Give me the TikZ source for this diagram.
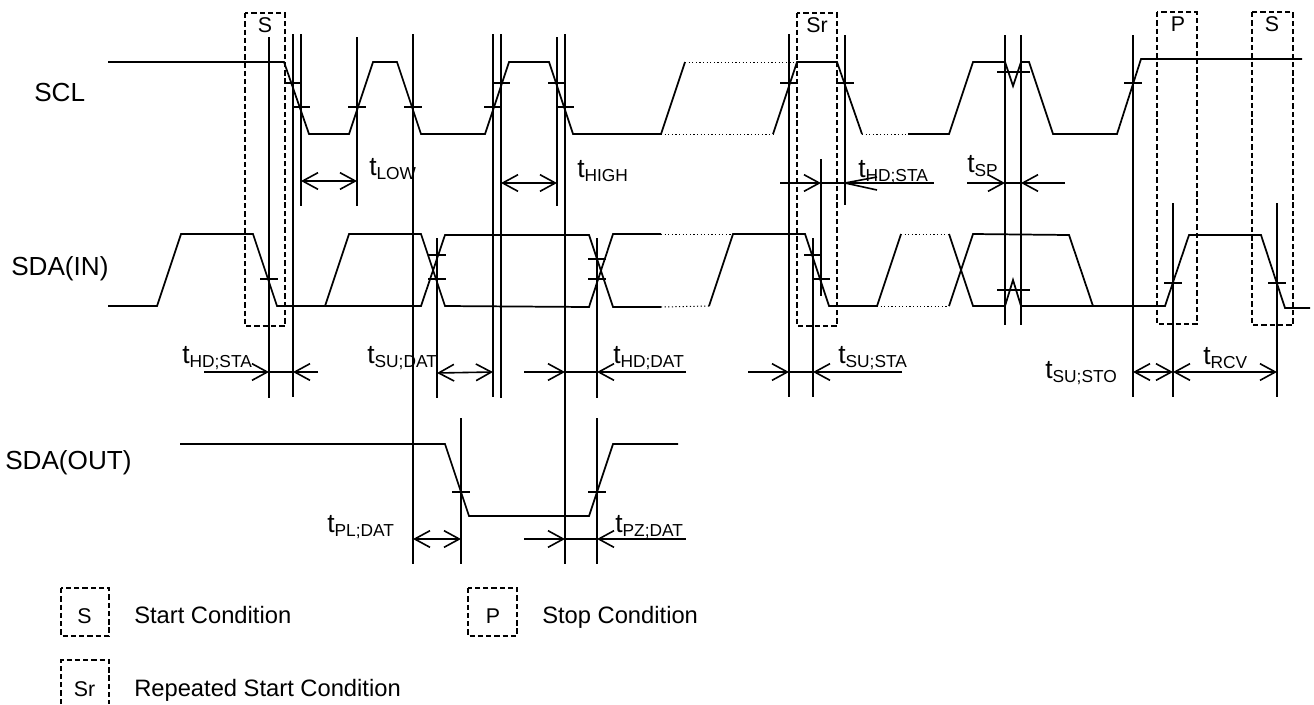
\documentclass[tikz,border=0pt]{standalone}
\usepackage{fontspec}
\setmainfont{Liberation Sans}
\usetikzlibrary{arrows.meta}
\newcommand{\tlab}[1]{{\fontsize{19.8}{22}\selectfont t}\raisebox{-3.5pt}{\fontsize{13}{14}\selectfont #1}}
\tikzset{
  wave/.style={line width=1.3pt,line join=miter},
  dots/.style={line width=0.75pt,dash pattern=on 0.9pt off 1.8pt},
  guide/.style={line width=1.3pt},
  tick/.style={line width=1.05pt},
  window/.style={line width=1.25pt,dash pattern=on 4pt off 2.2pt},
  plain/.style={line width=1.2pt},
  dim/.style={line width=1.2pt,{Straight Barb[length=11.5pt,width=12.5pt]}-{Straight Barb[length=11.5pt,width=12.5pt]}},
  dimr/.style={line width=1.2pt,-{Straight Barb[length=11.5pt,width=12.5pt]}},
  sig/.style={anchor=base west,inner sep=0pt,font=\fontsize{19.6}{22}\selectfont},
  tim/.style={anchor=base west,inner sep=0pt},
  win/.style={anchor=base,inner sep=0pt,font=\fontsize{16}{18}\selectfont},
  leg/.style={anchor=base west,inner sep=0pt,font=\fontsize{17.8}{20}\selectfont},
}
\begin{document}
\begin{tikzpicture}[x=0.75pt,y=-0.75pt]
\useasboundingbox (0,0) rectangle (1314,704);
% vertical guides
\foreach \xx/\a/\b in {269/37/398, 293/34/397, 301/34/206, 357/37/206, 413/34/564,
  493/34/397, 501/34/398, 557/37/206, 565/34/564, 597/238/398, 597/418/564,
  437/238/398, 461/418/564, 789/34/397, 821/159/296, 813/238/397, 845/35/205,
  1005/35/325, 1021/35/325, 1133/35/397, 1173/203/397, 1277/203/397}
  \draw[guide] (\xx,\a) -- (\xx,\b);
% SCL
\draw[wave] (108,62) -- (284,62) -- (309,134) -- (349,134) -- (373,62) -- (397,62) -- (421,134) -- (485,134) -- (509,62) -- (549,62) -- (573,134) -- (661,134) -- (685,62);
\draw[dots] (685,62) -- (797,62);
\draw[dots] (661,134) -- (773,134);
\draw[wave] (773,134) -- (797,62) -- (837,62) -- (862,134);
\draw[dots] (862,134) -- (908,134);
\draw[wave] (908,134) -- (949,134) -- (973,62) -- (1005,62) -- (1013,86) -- (1021,62) -- (1029,62) -- (1053,134) -- (1117,134) -- (1141,59) -- (1302,59);
% SDA(IN)
\draw[wave] (108,306) -- (157,306) -- (181,234) -- (253,234) -- (277,306) -- (325,306) -- (349,234) -- (421,234) -- (445,306) -- (589,307) -- (613,234) -- (661,234);
\draw[wave] (325,306) -- (421,306) -- (445,235) -- (589,235) -- (613,307) -- (661,307);
\draw[dots] (661,234) -- (733,234);
\draw[dots] (661,307) -- (709,306);
\draw[wave] (709,306) -- (733,234) -- (805,234) -- (829,306) -- (877,306) -- (901,234);
\draw[dots] (901,234) -- (949,234);
\draw[dots] (877,306) -- (949,306);
\draw[wave] (949,234) -- (973,306) -- (1005,306) -- (1013,280) -- (1021,306) -- (1093,306) -- (1165,306) -- (1189,235) -- (1261,235) -- (1285,308) -- (1310,308);
\draw[wave] (949,306) -- (973,234) -- (1069,235) -- (1093,306);
% SDA(OUT)
\draw[wave] (180,444) -- (445,444) -- (469,516) -- (589,516) -- (613,444) -- (678,444);
% ticks
\foreach \a/\b/\y in {285/301/83, 293/310/107, 348/366/107, 404/422/107, 493/510/83, 484/502/107,
  548/566/83, 557/574/107, 780/797/83, 837/854/83, 997/1030/72, 1124/1142/83,
  260/278/279, 428/446/255, 428/446/279, 588/606/259, 588/606/279, 804/822/255, 813/830/279,
  997/1030/290, 1164/1182/283, 1268/1286/283, 452/470/492, 588/606/492}
  \draw[tick] (\a,\y) -- (\b,\y);
% dashed windows
\draw[window] (245,13) rectangle (285,326);
\draw[window] (797,13) rectangle (837,326);
\draw[window] (1157,12) rectangle (1197,324);
\draw[window] (1252,12) rectangle (1293,325);
\draw[window] (61,588) rectangle (109,636);
\draw[window] (468,588) rectangle (517,636);
\draw[window] (61,704) -- (61,660) -- (109,660) -- (109,704);
% dimension arrows
\draw[dim] (301,181) -- (357,181);
\draw[dim] (501,183) -- (557,183);
\draw[dim] (437,373) -- (493,372);
\draw[dim] (413,539) -- (461,539);
\draw[dim] (1133,372) -- (1173,372);
\draw[dim] (1173,372) -- (1277,372);
\draw[dimr] (780,183) -- (821,183);
\draw[plain] (821,183) -- (845,183);
\draw[plain] (877,177) -- (845,183) -- (877,190);
\draw[plain] (845,183) -- (934,183);
\draw[dimr] (967,183) -- (1005,183);
\draw[plain] (1005,183) -- (1021,183);
\draw[dimr] (1065,183) -- (1021,183);
\draw[dimr] (204,372) -- (269,372);
\draw[plain] (269,372) -- (293,372);
\draw[dimr] (318,372) -- (293,372);
\draw[dimr] (524,372) -- (565,372);
\draw[plain] (565,372) -- (597,372);
\draw[dimr] (686,372) -- (597,372);
\draw[dimr] (748,372) -- (789,372);
\draw[plain] (789,372) -- (813,372);
\draw[dimr] (902,372) -- (813,372);
\draw[dimr] (524,539) -- (565,539);
\draw[plain] (565,539) -- (597,539);
\draw[dimr] (686,539) -- (597,539);
% signal names
\node[sig] (scl) at (34,101) {SCL};
\node[sig] (sdain) at (11,275) {SDA(IN)};
\node[sig] (sdaout) at (5,469) {SDA(OUT)};
% timing labels
\node[tim] (tlow) at (369,175) {\tlab{LOW}};
\node[tim] (thigh) at (577,177) {\tlab{HIGH}};
\node[tim] (thdsta) at (858,177) {\tlab{HD;STA}};
\node[tim] (tsp) at (967,172) {\tlab{SP}};
\node[tim] (thdstab) at (182,363) {\tlab{HD;STA}};
\node[tim] (tsudat) at (367,363) {\tlab{SU;DAT}};
\node[tim] (thddat) at (613,363) {\tlab{HD;DAT}};
\node[tim] (tsusta) at (838,363) {\tlab{SU;STA}};
\node[tim] (tsusto) at (1045,378) {\tlab{SU;STO}};
\node[tim] (trcv) at (1203,364) {\tlab{RCV}};
\node[tim] (tpldat) at (327,532) {\tlab{PL;DAT}};
\node[tim] (tpzdat) at (615,532) {\tlab{PZ;DAT}};
% window labels
\node[win] (ws1) at (265,32) {S};
\node[win] (wsr) at (817,32) {Sr};
\node[win] (wp) at (1178,31) {P};
\node[win] (ws2) at (1272,31) {S};
% legend
\node[win] (ls) at (84.5,623) {S};
\node[win] (lp) at (493,623) {P};
\node[win] (lsr) at (84.5,696) {Sr};
\node[leg] (lst) at (134,623) {Start Condition};
\node[leg] (lsp) at (542,623) {Stop Condition};
\node[leg] (lrs) at (134,696) {Repeated Start Condition};
\end{tikzpicture}
\end{document}
